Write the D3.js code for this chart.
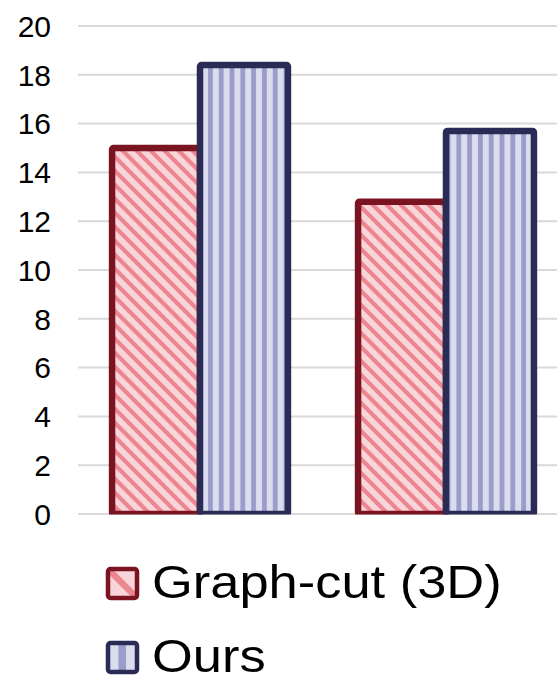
<!DOCTYPE html>
<html>
<head>
<meta charset="utf-8">
<script src="https://cdn.jsdelivr.net/npm/d3@7"></script>
<style>
  html, body { margin: 0; padding: 0; background: #fff; }
  svg { display: block; font-family: "Liberation Sans", Arial, sans-serif; }
</style>
</head>
<body>
<svg id="chart" width="557" height="676"></svg>
<script>
const categories = ["Group 1", "Group 2"];
const series = ["Graph-cut (3D)", "Ours"];
const graphCutValues = [15.0, 12.8];
const oursValues = [18.4, 15.7];
const yTicks = [0, 2, 4, 6, 8, 10, 12, 14, 16, 18, 20];

const values = { "Graph-cut (3D)": graphCutValues, "Ours": oursValues };
const styles = {
    "Graph-cut (3D)": { stroke: "#7a1420", fill: "url(#diag)", legendFill: "url(#diagLegend)" },
    "Ours": { stroke: "#2b2c55", fill: "url(#vert)", legendFill: "url(#vertLegend)" }
};

const svg = d3.select("#chart");

svg.append("defs").html(`
  <pattern id="diag" patternUnits="userSpaceOnUse" width="14" height="14">
    <rect width="14" height="14" fill="#f8d5d9"/>
    <path d="M-3,-3 L17,17 M-3,11 L3,17 M11,-3 L17,3" stroke="#ec8691" stroke-width="4.2"/>
  </pattern>
  <pattern id="vert" patternUnits="userSpaceOnUse" width="10.8" height="10" x="205">
    <rect width="10.8" height="10" fill="#dcdcef"/>
    <rect x="3" width="4.8" height="10" fill="#9c9ccb"/>
  </pattern>
  <pattern id="diagLegend" patternContentUnits="objectBoundingBox" width="1" height="1">
    <rect width="1" height="1" fill="#f8d5d9"/>
    <path d="M0,0 L1,1" stroke="#ec8691" stroke-width="0.22"/>
  </pattern>
  <pattern id="vertLegend" patternContentUnits="objectBoundingBox" width="1" height="1">
    <rect width="1" height="1" fill="#dcdcef"/>
    <rect x="0.36" width="0.26" height="1" fill="#9c9ccb"/>
  </pattern>
  <clipPath id="plotClip"><rect x="0" y="0" width="557" height="514.5"/></clipPath>
`);

const y = d3.scaleLinear().domain([0, 20]).range([514, 26]);
const x = d3.scaleBand().domain(categories).range([77, 569]).paddingInner(0.285).paddingOuter(0.1425);
const xSub = d3.scaleBand().domain(series).range([0, x.bandwidth()]);

// gridlines
svg.append("g")
    .selectAll("line")
    .data(yTicks)
    .join("line")
    .attr("x1", 78)
    .attr("x2", 557)
    .attr("y1", d => y(d))
    .attr("y2", d => y(d))
    .attr("stroke", "#d9d9d9")
    .attr("stroke-width", 2);

// y labels
svg.append("g")
    .selectAll("text")
    .data(yTicks)
    .join("text")
    .attr("x", 51)
    .attr("y", d => y(d))
    .attr("dy", "0.36em")
    .attr("text-anchor", "end")
    .attr("font-size", 30)
    .attr("fill", "#000")
    .text(d => d);

// bars
const bars = svg.append("g").attr("clip-path", "url(#plotClip)");
series.forEach(s => {
    bars.append("g")
        .selectAll("rect")
        .data(categories.map((c, i) => ({ c, v: values[s][i] })))
        .join("rect")
        .attr("x", d => x(d.c) + xSub(s))
        .attr("y", d => y(d.v))
        .attr("width", xSub.bandwidth())
        .attr("height", d => y(0) - y(d.v))
        .attr("rx", 1.5)
        .attr("fill", styles[s].fill)
        .attr("stroke", styles[s].stroke)
        .attr("stroke-width", 6.5)
        .attr("stroke-linejoin", "round");
});

// legend
const legend = svg.append("g");
series.forEach((s, i) => {
    const g = legend.append("g").attr("transform", `translate(108, ${569 + i * 74})`);
    g.append("rect")
        .attr("width", 29)
        .attr("height", 29)
        .attr("rx", 2.5)
        .attr("fill", styles[s].legendFill)
        .attr("stroke", styles[s].stroke)
        .attr("stroke-width", 4.5);
    g.append("text")
        .attr("transform", "translate(44, 29) scale(1.14, 1)")
        .attr("font-size", 46)
        .attr("fill", "#000")
        .text(s);
});
</script>
</body>
</html>
